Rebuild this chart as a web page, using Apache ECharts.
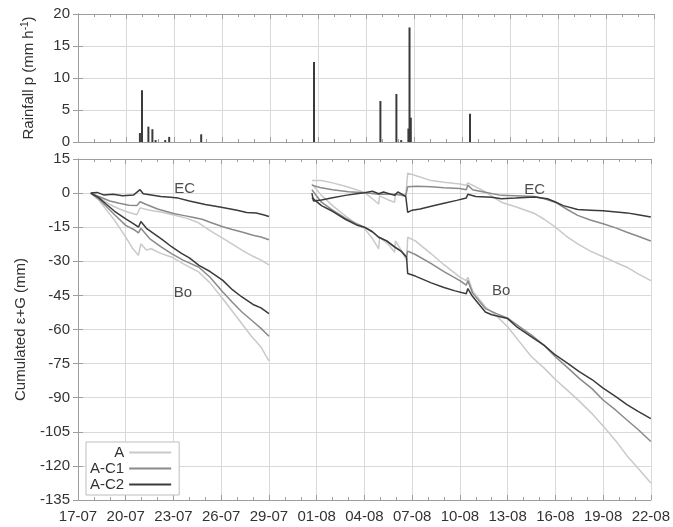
<!DOCTYPE html>
<html>
<head>
<meta charset="utf-8">
<script src="https://cdn.jsdelivr.net/npm/echarts@6/dist/echarts.min.js"></script>
<style>
html, body { margin: 0; padding: 0; background: #fff; }
#chart { width: 673px; height: 527px; }
</style>
</head>
<body>
<div id="chart"></div>
<script>
// x values are days counted from 17-07
var tickLabels = ['17-07', '20-07', '23-07', '26-07', '29-07', '01-08', '04-08',
  '07-08', '10-08', '13-08', '16-08', '19-08', '22-08'];

// rainfall events
var rainDay = [3.87, 4.0, 4.4, 4.65, 4.85, 5.45, 5.7, 7.7, 14.75, 18.9, 19.9, 20.2, 20.65, 20.72, 20.8, 24.5];
var rainVal = [1.4, 8.1, 2.4, 2.0, 0.3, 0.3, 0.8, 1.2, 12.5, 6.4, 7.5, 0.3, 2.1, 17.9, 3.8, 4.4];

// EC group
var ecA1 = [[0.8,0],[1.3,-2],[2,-5],[2.6,-7],[3.2,-8.5],[3.7,-9.5],[3.9,-6.5],[4.5,-7.5],[5.2,-8.3],[6,-9.6],
  [6.8,-11],[7.5,-12.8],[8.3,-16.5],[8.9,-19],[9.6,-22],[10.4,-25.5],[11,-27.8],[11.5,-29.5],[12,-31.6]];
var ecA2 = [[14.7,5.5],[15.3,5.5],[16,4.5],[16.8,3],[17.5,1.5],[18,0.3],[18.5,-2.5],[18.9,-4.8],[18.95,-1.2],
  [19.5,-3],[19.9,-4],[19.95,-0.5],[20.6,-1.5],[20.72,8.8],[21.3,7.5],[22.2,5.5],[23,4.8],[24,4],[24.4,3.5],
  [24.5,4.5],[25.5,1],[26.6,-4],[27.5,-6],[28.7,-9],[29.3,-11.5],[30,-15],[30.7,-19],[31.4,-22.3],[32.2,-25.5],
  [33,-28],[33.8,-30.5],[34.5,-32.6],[35.2,-35.5],[36,-38.5]];
var ecC1a = [[0.8,0],[1.3,-1.5],[2,-3.5],[2.6,-4.5],[3.2,-5.3],[3.7,-5.5],[3.9,-3.8],[4.3,-5],[5,-7],[5.5,-8],
  [6,-9],[6.6,-9.8],[7.2,-10.6],[7.8,-11.5],[8.3,-12.8],[9.1,-14.8],[9.7,-16],[10.3,-17.1],[11,-18.5],
  [11.5,-19.3],[12,-20.5]];
var ecC1b = [[14.7,3.5],[15.2,2.5],[16,1.5],[17,0.6],[18,0.2],[18.9,-0.5],[19.9,-0.5],[20.6,-1],[20.72,2.8],
  [21.3,3],[22.2,2.8],[23,2.3],[24,2],[24.4,1.5],[24.5,3.5],[24.8,1.5],[25.5,0.5],[26.6,-1],[27.5,-1.2],
  [28.7,-1.5],[29.3,-2.5],[30,-4],[30.7,-7],[31.4,-9.8],[32.2,-11.8],[33,-13.5],[33.8,-15.3],[34.5,-17.2],
  [35.2,-19],[36,-21.1]];
var ecC2a = [[0.8,0],[1.2,0.3],[1.6,-0.8],[2.2,-0.5],[2.8,-1.2],[3.5,-0.8],[3.9,1.5],[4.1,-0.3],[4.6,-0.8],
  [5.2,-1.5],[5.8,-1.8],[6.3,-2.2],[7,-3.5],[8,-5],[9,-6.2],[10,-7.5],[10.6,-8.5],[11.2,-8.8],[11.7,-9.6],
  [12,-10.3]];
var ecC2b = [[14.7,0],[14.8,-3.5],[15.3,-3],[16,-2],[16.8,-1],[17.5,-0.3],[18,0.2],[18.5,0.8],[18.9,-0.3],
  [19.2,0.5],[19.9,-1],[20.1,0.5],[20.6,-1.5],[20.72,-8.5],[21,-7.5],[21.5,-7],[22.2,-5.8],[23,-4.5],
  [23.8,-3.2],[24.4,-2.2],[24.5,-0.5],[25,-1.5],[26,-1.8],[26.6,-2.5],[27.5,-2.2],[28.7,-1.7],[29.5,-2.5],
  [30,-3.9],[30.5,-5.5],[31.4,-7.2],[32.2,-7.5],[33,-7.8],[34,-8.4],[34.5,-8.7],[35.2,-9.5],[36,-10.5]];

// Bo group
var boA1 = [[0.8,0],[1.3,-3],[1.8,-7.5],[2.3,-12],[3,-19.4],[3.4,-24],[3.8,-27.4],[3.95,-22.3],[4.3,-25],
  [4.6,-24.5],[5.2,-26.5],[5.9,-28.2],[6.6,-31],[7.6,-34.8],[8.3,-39.5],[9.1,-46.5],[9.7,-52],[10.3,-57.5],
  [10.9,-63],[11.5,-67.7],[12,-73.8]];
var boA2 = [[14.7,4],[15.3,-1],[16,-5.5],[16.8,-10],[17.5,-13.6],[18,-15.5],[18.5,-20],[18.9,-24.5],
  [18.95,-19.5],[19.5,-22.5],[19.9,-26],[19.95,-21],[20.3,-25],[20.65,-29.6],[20.72,-19.4],[21.2,-21],
  [22.2,-26.7],[23,-31.5],[24,-37],[24.4,-38.5],[24.5,-37],[24.8,-43],[25.6,-50],[26.3,-54],[27,-58.8],
  [27.7,-65],[28.5,-72],[29.3,-77],[30,-82],[30.8,-87],[31.5,-91.5],[32.3,-97],[33,-102.4],[33.8,-109],
  [34.5,-115.5],[35.2,-121],[36,-127.5]];
var boC1a = [[0.8,0],[1.3,-2.5],[1.8,-6],[2.3,-9.5],[3,-14.2],[3.5,-16],[3.8,-17.5],[3.95,-15.5],[4.5,-20],
  [5.2,-23.5],[5.9,-26.7],[6.6,-29.5],[7.6,-32.6],[8.3,-37],[9.1,-43.5],[9.7,-48],[10.3,-52.3],[11,-56.5],
  [11.5,-59.5],[12,-63]];
var boC1b = [[14.7,1.5],[15.3,-4],[16,-7.5],[16.8,-11],[17.5,-13.5],[18,-15],[18.5,-17],[18.9,-19.4],
  [19.4,-21],[19.9,-23.5],[20.3,-25.5],[20.65,-28],[20.72,-25.5],[21.2,-27],[22.2,-31],[23,-34.5],[24,-38.5],
  [24.4,-40.5],[24.5,-38.5],[24.8,-44],[25.6,-50.8],[26.3,-53],[27,-55],[27.7,-58.5],[28.5,-62.5],[29.3,-67],
  [30,-72],[30.8,-77],[31.5,-81.5],[32.3,-86],[33,-91],[33.8,-95.5],[34.5,-99.8],[35.2,-104],[36,-109.3]];
var boC2a = [[0.8,0],[1.3,-2],[1.8,-5],[2.3,-8],[3,-11.3],[3.5,-13.5],[3.8,-15],[3.95,-12.5],[4.3,-15.5],
  [4.7,-17.5],[5.3,-20.5],[5.9,-23.7],[6.5,-26.5],[7,-28.5],[7.6,-31.8],[8.3,-34.5],[9.1,-38.4],[9.7,-42.5],
  [10.3,-45.7],[11,-49],[11.5,-50.5],[12,-53]];
var boC2b = [[14.7,-2],[15.3,-5.5],[16,-8],[16.8,-11.5],[17.5,-14],[18,-15],[18.5,-17],[18.9,-19.4],
  [19.4,-21],[19.9,-23.8],[20.3,-25.5],[20.65,-28.2],[20.72,-35.4],[21.2,-36.5],[22.2,-39.5],[23,-41.5],
  [23.7,-43],[24.4,-44.3],[24.5,-42],[24.8,-45.5],[25.6,-52.3],[26,-53.5],[27,-55.2],[27.6,-59],[28.5,-63.2],
  [29.3,-67],[30,-71.2],[30.8,-75],[31.5,-78.5],[32.3,-82],[33,-85.8],[33.8,-89.5],[34.5,-93],[35.2,-96],
  [36,-99.2]];

// group labels [day, value, text]
var groupLabels = [[6.7, 2, 'EC'], [28.7, 1.6, 'EC'], [6.6, -43.7, 'Bo'], [26.6, -43, 'Bo']];

var colors = { 'A': '#c9c9c9', 'A-C1': '#8a8a8a', 'A-C2': '#3b3b3b' };
var font = 'Liberation Sans';
var txt = '#333';
var frame = '#9e9e9e';

function join(a, b) {
  return a.concat([[13, '-']], b);
}

function lineSeries(name, a, b) {
  return {
    name: name, type: 'line', xAxisIndex: 2, yAxisIndex: 2,
    data: join(a, b), symbol: 'none', connectNulls: false,
    lineStyle: { color: colors[name], width: 1.5 },
    itemStyle: { color: colors[name] }
  };
}

function xAx(grid, pos, labels) {
  return {
    type: 'value', gridIndex: grid, position: pos, min: 0, max: 36, interval: 3,
    axisLine: { show: true, onZero: false, lineStyle: { color: frame } },
    axisTick: { show: true, inside: true, length: 5, lineStyle: { color: frame } },
    minorTick: { show: true, splitNumber: 3, length: 3, lineStyle: { color: frame } },
    splitLine: { show: pos === 'bottom', lineStyle: { color: '#d9d9d9' } },
    axisLabel: {
      show: labels, margin: 9, fontSize: 15, fontFamily: font, color: txt,
      formatter: function (v) { return tickLabels[Math.round(v / 3)]; }
    }
  };
}

function yAx(grid, pos, min, max, step, name, gap) {
  return {
    type: 'value', gridIndex: grid, position: pos, min: min, max: max, interval: step,
    name: name, nameLocation: 'middle', nameRotate: 90, nameGap: gap,
    nameTextStyle: {
      fontSize: 15, fontFamily: font, color: txt,
      rich: { sup: { fontSize: 10, fontFamily: font, color: txt, padding: [0, 0, 7, 0] } }
    },
    axisLine: { show: true, lineStyle: { color: frame } },
    axisTick: { show: true, inside: true, length: 5, lineStyle: { color: frame } },
    splitLine: { show: pos === 'left', lineStyle: { color: '#d9d9d9' } },
    axisLabel: { show: pos === 'left', margin: 8, fontSize: 15, fontFamily: font, color: txt }
  };
}

var chart = echarts.init(document.getElementById('chart'));
var option = {
  animation: false,
  backgroundColor: '#fff',
  grid: [
    { left: 78, right: 19, top: 14, height: 128 },
    { left: 78, right: 19, top: 159, height: 341 }
  ],
  xAxis: [
    xAx(0, 'bottom', false), xAx(0, 'top', false),
    xAx(1, 'bottom', true), xAx(1, 'top', false)
  ],
  yAxis: [
    yAx(0, 'left', 0, 20, 5, 'Rainfall p (mm h{sup|-1})', 41),
    yAx(0, 'right', 0, 20, 5, '', 0),
    yAx(1, 'left', -135, 15, 15, 'Cumulated ε+G (mm)', 50),
    yAx(1, 'right', -135, 15, 15, '', 0)
  ],
  legend: {
    data: ['A', 'A-C1', 'A-C2'],
    orient: 'vertical', left: 86, top: 442, align: 'right',
    icon: 'rect', itemWidth: 42, itemHeight: 2, itemGap: 1,
    padding: [3, 8, 3, 4],
    borderColor: '#bdbdbd', borderWidth: 1, backgroundColor: '#fff',
    textStyle: { fontSize: 15, fontFamily: font, color: txt, width: 38, align: 'center' }
  },
  series: [
    {
      name: 'rain', type: 'bar', xAxisIndex: 0, yAxisIndex: 0, barWidth: 2,
      data: rainDay.map(function (d, i) { return [d, rainVal[i]]; }),
      itemStyle: { color: '#3a3a3a' }
    },
    lineSeries('A', ecA1, ecA2),
    lineSeries('A', boA1, boA2),
    lineSeries('A-C1', ecC1a, ecC1b),
    lineSeries('A-C1', boC1a, boC1b),
    lineSeries('A-C2', ecC2a, ecC2b),
    lineSeries('A-C2', boC2a, boC2b),
    {
      type: 'scatter', xAxisIndex: 2, yAxisIndex: 2, symbolSize: 0, silent: true,
      data: groupLabels,
      label: {
        show: true, position: 'inside', fontSize: 15, fontFamily: font, color: '#222',
        formatter: function (p) { return p.value[2]; }
      }
    }
  ]
};
chart.setOption(option);
window.onresize = chart.resize;
</script>
</body>
</html>
